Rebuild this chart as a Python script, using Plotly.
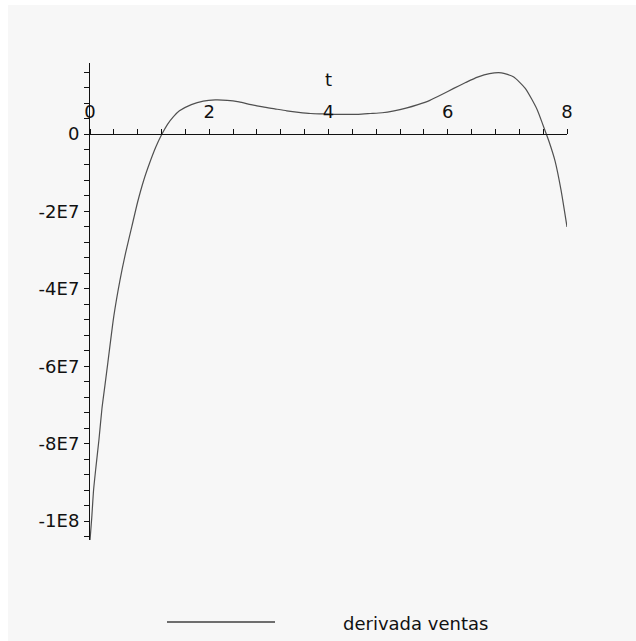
import plotly.graph_objects as go

# Derivative of sales over time t (values in units, read at sample times)
t_vals = [0, 0.03, 0.06, 0.1, 0.15, 0.2, 0.25, 0.3, 0.4, 0.5, 0.6, 0.7, 0.8, 0.9,
          1.0, 1.1, 1.2, 1.3, 1.4, 1.5, 1.7, 1.9, 2.1, 2.3, 2.5, 2.7, 2.9, 3.1,
          3.3, 3.5, 3.7, 3.9, 4.1, 4.3, 4.5, 4.7, 4.9, 5.1, 5.3, 5.5, 5.7, 5.9,
          6.1, 6.3, 6.5, 6.7, 6.9, 7.1, 7.3, 7.5, 7.6, 7.7, 7.8, 7.9, 8.0]
deriv_millions = [-105, -99, -92, -86, -79, -71, -65, -59, -47, -38, -30.5, -24,
                  -17.5, -12, -7.5, -3.5, -0.2, 2.5, 4.5, 6.0, 7.6, 8.5, 8.8, 8.7,
                  8.3, 7.6, 7.0, 6.5, 6.0, 5.6, 5.3, 5.2, 5.1, 5.1, 5.1, 5.3, 5.5,
                  6.0, 6.7, 7.6, 8.7, 10.2, 11.8, 13.3, 14.7, 15.6, 15.8, 14.8,
                  11.8, 6.3, 2.2, -2.0, -7.0, -14.5, -24]
deriv_vals = [v * 1e6 for v in deriv_millions]

series_name = "derivada ventas"
x_tick_vals = [0, 2, 4, 6, 8]
x_tick_text = ["0", "2", "4", "6", "8"]
y_tick_vals = [0, -2e7, -4e7, -6e7, -8e7, -1e8]
y_tick_text = ["0", "-2E7", "-4E7", "-6E7", "-8E7", "-1E8"]

# Layout geometry (pixels)
W, H = 636, 641
ML, MR, MT, MB = 90, 69, 63, 101
PW, PH = W - ML - MR, H - MT - MB
x_range = [0, 8]
y_range = [-104.9e6, 18.35e6]

def paper_x(px):
    return (px - ML) / PW

def paper_y(py):
    return (H - MB - py) / PH

# Position of the horizontal axis where y = 0
x_axis_pos = (0 - y_range[0]) / (y_range[1] - y_range[0])

y_minor = [v * 4e6 for v in range(-26, 5)]
x_minor = [round(i * 0.4, 2) for i in range(0, 21)]

font_family = "DejaVu Sans, Verdana, sans-serif"
ink = "#111111"
fsize = 18

fig = go.Figure()
fig.add_trace(go.Scatter(
    x=t_vals, y=deriv_vals, mode="lines", name=series_name,
    line=dict(color="#505050", width=1.2, shape="spline", smoothing=0.6),
    showlegend=False, hoverinfo="skip",
))

fig.update_layout(
    width=W, height=H, autosize=False,
    margin=dict(l=ML, r=MR, t=MT, b=MB, pad=0),
    paper_bgcolor="#f7f7f7", plot_bgcolor="#f7f7f7",
    font=dict(family=font_family, size=fsize, color=ink),
    showlegend=False,
    xaxis=dict(
        range=x_range, side="top", anchor="free", position=x_axis_pos,
        showline=True, linecolor=ink, linewidth=1,
        showgrid=False, zeroline=False,
        ticks="outside", ticklen=5, tickcolor=ink, tickwidth=1,
        tickmode="array", tickvals=x_tick_vals, ticktext=x_tick_text,
        minor=dict(tickmode="array", tickvals=x_minor, ticks="outside",
                   ticklen=5, tickcolor=ink, tickwidth=1, showgrid=False),
        ticklabelstandoff=4,
        title=dict(text="t", standoff=8, font=dict(size=fsize, color=ink)),
    ),
    yaxis=dict(
        range=y_range,
        showline=True, linecolor=ink, linewidth=1,
        showgrid=False, zeroline=False,
        ticks="outside", ticklen=5, tickcolor=ink, tickwidth=1,
        tickmode="array", tickvals=y_tick_vals, ticktext=y_tick_text,
        minor=dict(tickmode="array", tickvals=y_minor, ticks="outside",
                   ticklen=5, tickcolor=ink, tickwidth=1, showgrid=False),
        ticklabelstandoff=1,
    ),
)

# Plain white border strips along the top and left edges of the canvas
fig.add_shape(type="rect", xref="paper", yref="paper", layer="below",
              x0=paper_x(0), x1=paper_x(8), y0=paper_y(H), y1=paper_y(0),
              line=dict(width=0), fillcolor="white")
fig.add_shape(type="rect", xref="paper", yref="paper", layer="below",
              x0=paper_x(0), x1=paper_x(W), y0=paper_y(5), y1=paper_y(0),
              line=dict(width=0), fillcolor="white")

# Legend: sample line and label below the plot
legend_y = 622
fig.add_shape(type="line", xref="paper", yref="paper",
              x0=paper_x(167), x1=paper_x(275), y0=paper_y(legend_y), y1=paper_y(legend_y),
              line=dict(color="#404040", width=1.3))
fig.add_annotation(text=series_name, xref="paper", yref="paper",
                   x=paper_x(341), y=paper_y(legend_y + 1), xanchor="left", yanchor="middle",
                   showarrow=False, font=dict(size=fsize, color=ink, family=font_family))

fig.write_html("out.html")
